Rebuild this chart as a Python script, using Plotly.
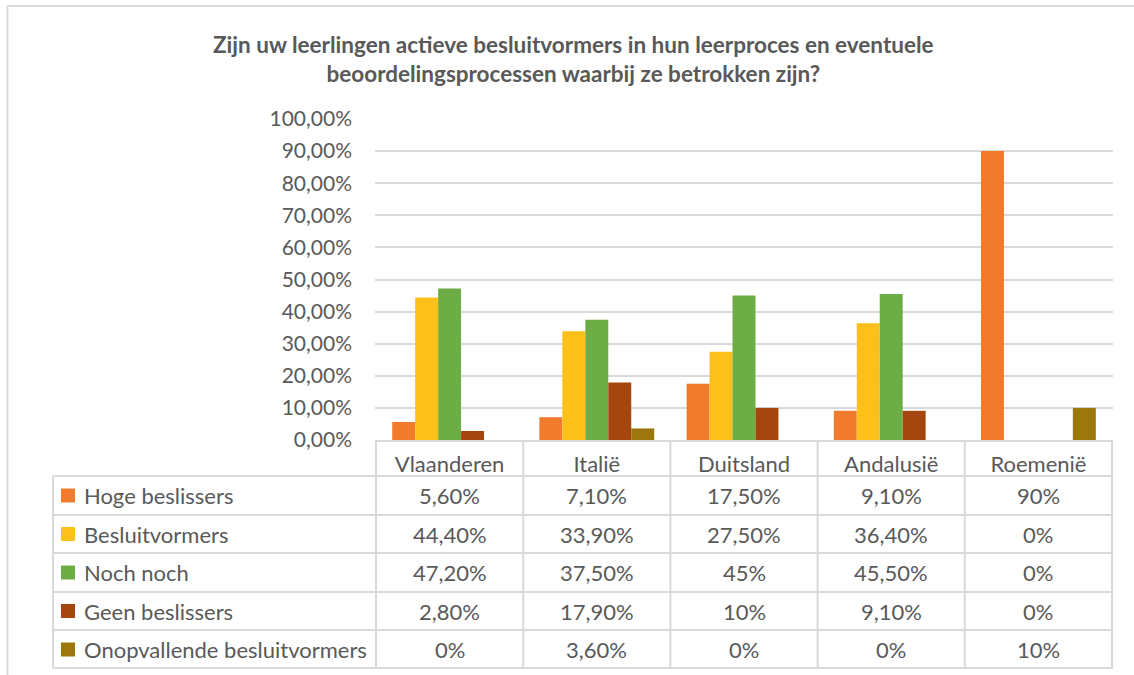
import plotly.graph_objects as go

categories = ["Vlaanderen", "Italië", "Duitsland", "Andalusië", "Roemenië"]
series_names = ["Hoge beslissers", "Besluitvormers", "Noch noch", "Geen beslissers",
                "Onopvallende besluitvormers"]
hoge = [5.6, 7.1, 17.5, 9.1, 90]
besluit = [44.4, 33.9, 27.5, 36.4, 0]
noch = [47.2, 37.5, 45, 45.5, 0]
geen = [2.8, 17.9, 10, 9.1, 0]
onop = [0, 3.6, 0, 0, 10]
series_values = [hoge, besluit, noch, geen, onop]
colors = ["#F07B2C", "#FCC01A", "#6DAD45", "#A4470F", "#9C770B"]

title_text = ("Zijn uw leerlingen actieve besluitvormers in hun leerproces en eventuele<br>"
              "beoordelingsprocessen waarbij ze betrokken zijn?")

FONT = "Lato"
GREY = "#595959"
LINE = "#D9D9D9"

W, H = 1134, 675
L, R, T, B = 375, 1113, 119, 440


def px_x(px):
    return (px - L) / (R - L)


def px_y(py):
    return (B - py) / (B - T)


def fmt(v):
    if float(v) == int(v):
        return f"{int(v)}%"
    return f"{v:.2f}".replace(".", ",") + "%"


fig = go.Figure()
for name, vals, col in zip(series_names, series_values, colors):
    fig.add_trace(go.Bar(
        x=categories, y=[v / 100 for v in vals], name=name,
        marker=dict(color=col, line=dict(width=0)),
    ))

shapes = []
annotations = []

# outer chart border (left + top)
shapes.append(dict(type="line", xref="paper", yref="paper",
                   x0=px_x(7.5), x1=px_x(1134), y0=px_y(6), y1=px_y(6),
                   line=dict(color=LINE, width=2)))
shapes.append(dict(type="line", xref="paper", yref="paper",
                   x0=px_x(7.5), x1=px_x(7.5), y0=px_y(6), y1=px_y(675),
                   line=dict(color=LINE, width=2)))

# data table grid
row_lines = [476, 515, 553, 592, 630, 668]
for yl in row_lines:
    shapes.append(dict(type="line", xref="paper", yref="paper",
                       x0=px_x(53), x1=1, y0=px_y(yl), y1=px_y(yl),
                       line=dict(color=LINE, width=2)))
shapes.append(dict(type="line", xref="paper", yref="paper",
                   x0=px_x(53), x1=px_x(53), y0=px_y(476), y1=px_y(668),
                   line=dict(color=LINE, width=2)))
for i in range(len(categories) + 1):
    shapes.append(dict(type="line", xref="x", yref="paper",
                       x0=i - 0.5, x1=i - 0.5, y0=0, y1=px_y(668),
                       line=dict(color=LINE, width=2)))

row_centers = [495.5, 534, 572.5, 611, 649.5]
for name, vals, col, yc in zip(series_names, series_values, colors, row_centers):
    shapes.append(dict(type="rect", xref="paper", yref="paper",
                       x0=px_x(61), x1=px_x(75), y0=px_y(yc - 7), y1=px_y(yc + 7),
                       fillcolor=col, line=dict(width=0)))
    annotations.append(dict(text=name, xref="paper", yref="paper",
                            x=px_x(82), y=px_y(yc), xanchor="left", yanchor="middle",
                            showarrow=False, font=dict(family=FONT, size=22, color=GREY)))
    for cat, v in zip(categories, vals):
        annotations.append(dict(text=fmt(v), xref="x", yref="paper",
                                x=cat, y=px_y(yc), xanchor="center", yanchor="middle",
                                showarrow=False, font=dict(family=FONT, size=22, color=GREY)))

annotations.append(dict(text=f"<b>{title_text}</b>", xref="paper", yref="paper",
                        x=px_x(573), y=px_y(59), xanchor="center", yanchor="middle",
                        showarrow=False, font=dict(family=FONT, size=22.5, color=GREY)))

fig.update_layout(
    width=W, height=H,
    margin=dict(l=L, r=W - R, t=T, b=H - B),
    paper_bgcolor="white", plot_bgcolor="white",
    separators=",.",
    showlegend=False,
    barmode="group", bargap=0.22, bargroupgap=0,
    shapes=shapes, annotations=annotations,
    font=dict(family=FONT, color=GREY),
)
fig.update_yaxes(range=[0, 1], dtick=0.1, tickformat=".2%",
                 showgrid=True, gridcolor=LINE, gridwidth=2,
                 zeroline=False, showline=False, ticks="",
                 ticklabelstandoff=22,
                 tickfont=dict(family=FONT, size=21, color=GREY))
fig.update_xaxes(showgrid=False, showline=True, linecolor=LINE, linewidth=2,
                 ticks="", ticklabelstandoff=4,
                 tickfont=dict(family=FONT, size=22, color=GREY))

fig.write_html("out.html",
               config={"displayModeBar": False},
               post_script="document.body.style.margin='0';document.body.style.overflow='hidden';")
